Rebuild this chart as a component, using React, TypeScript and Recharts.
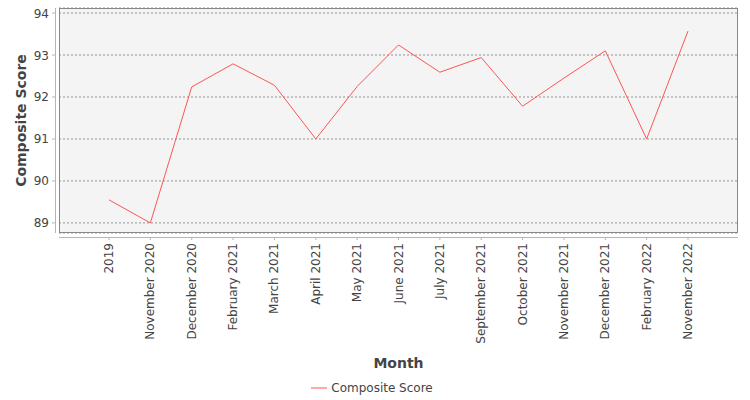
import React from "react";
import { LineChart, Line, XAxis, YAxis, CartesianGrid, Legend } from "recharts";

const months = [
  "2019",
  "November 2020",
  "December 2020",
  "February 2021",
  "March 2021",
  "April 2021",
  "May 2021",
  "June 2021",
  "July 2021",
  "September 2021",
  "October 2021",
  "November 2021",
  "December 2021",
  "February 2022",
  "November 2022",
];

const scores = [
  89.55, 89.0, 92.24, 92.79, 92.28, 91.0, 92.25, 93.24, 92.59, 92.94, 91.78, 92.45, 93.1, 91.0, 93.57,
];

const yTicks = [89, 90, 91, 92, 93, 94];

const data = months.map((m, i) => ({ month: m, score: scores[i] }));

const FONT = "'DejaVu Sans', sans-serif";
const TEXT = "#444444";
const LINE = "#ff5555";

// plot box (chart pixels)
const PLOT = { left: 59, top: 8, right: 738, bottom: 233 };

function XTick(props: any) {
  const { x, payload } = props;
  return (
    <g>
      <line x1={x} x2={x} y1={237} y2={240} stroke="#b5b5b5" />
      <text
        transform={`translate(${x + 4},243) rotate(-90)`}
        textAnchor="end"
        fontSize={12}
        fontFamily={FONT}
        fill={TEXT}
      >
        {payload.value}
      </text>
    </g>
  );
}

function YTick(props: any) {
  const { y, payload } = props;
  return (
    <g>
      <line x1={52} x2={55} y1={y} y2={y} stroke="#b5b5b5" />
      <text x={49} y={y + 4.5} textAnchor="end" fontSize={12} fontFamily={FONT} fill={TEXT}>
        {payload.value}
      </text>
    </g>
  );
}

function LegendBox() {
  return (
    <div
      style={{
        display: "flex",
        justifyContent: "center",
        alignItems: "center",
        height: 30,
        paddingTop: 6,
        boxSizing: "border-box",
        paddingLeft: 6,
        fontFamily: FONT,
        fontSize: 12,
        color: TEXT,
      }}
    >
      <svg width={16} height={10} style={{ marginRight: 4 }}>
        <line x1={0} x2={16} y1={5} y2={5} stroke={LINE} strokeWidth={1} />
      </svg>
      <span>Composite Score</span>
    </div>
  );
}

export default function App() {
  return (
    <div style={{ position: "absolute", left: 0, top: 0, width: 750, height: 400, background: "#fff" }}>
      <LineChart
        width={750}
        height={400}
        data={data}
        margin={{ top: PLOT.top, right: 750 - PLOT.right, bottom: 0, left: 0 }}
      >
        <CartesianGrid
          vertical={false}
          fill="#f4f4f4"
          stroke="#7a7a7a"
          strokeWidth={0.8}
          strokeDasharray="2 2"
        />
        <XAxis
          dataKey="month"
          interval={0}
          height={137}
          padding={{ left: 50, right: 50 }}
          axisLine={false}
          tickLine={false}
          tick={<XTick />}
          label={(p: any) => {
            const vb = p.viewBox;
            return (
              <text
                x={vb.x + vb.width / 2}
                y={368}
                textAnchor="middle"
                fontSize={14}
                fontWeight="bold"
                fontFamily={FONT}
                fill={TEXT}
              >
                Month
              </text>
            );
          }}
        />
        <YAxis
          width={PLOT.left}
          domain={[88.76, 94.12]}
          ticks={yTicks}
          axisLine={false}
          tickLine={false}
          tick={<YTick />}
          label={(p: any) => {
            const vb = p.viewBox;
            const cy = vb.y + vb.height / 2;
            return (
              <text
                transform={`translate(26,${cy}) rotate(-90)`}
                textAnchor="middle"
                fontSize={14}
                fontWeight="bold"
                fontFamily={FONT}
                fill={TEXT}
              >
                Composite Score
              </text>
            );
          }}
        />
        <Legend verticalAlign="bottom" height={30} content={<LegendBox />} />
        <Line
          type="linear"
          dataKey="score"
          stroke={LINE}
          strokeWidth={1}
          dot={false}
          activeDot={false}
          isAnimationActive={false}
        />
      </LineChart>
      <svg
        width={750}
        height={400}
        style={{ position: "absolute", left: 0, top: 0, pointerEvents: "none" }}
      >
        <rect
          x={PLOT.left + 0.5}
          y={PLOT.top + 0.5}
          width={PLOT.right - PLOT.left - 1}
          height={PLOT.bottom - PLOT.top - 1}
          fill="none"
          stroke="#888888"
        />
        <line x1={55.5} x2={55.5} y1={PLOT.top} y2={PLOT.bottom} stroke="#b5b5b5" />
        <line x1={PLOT.left} x2={PLOT.right} y1={237.5} y2={237.5} stroke="#b5b5b5" />
      </svg>
    </div>
  );
}
